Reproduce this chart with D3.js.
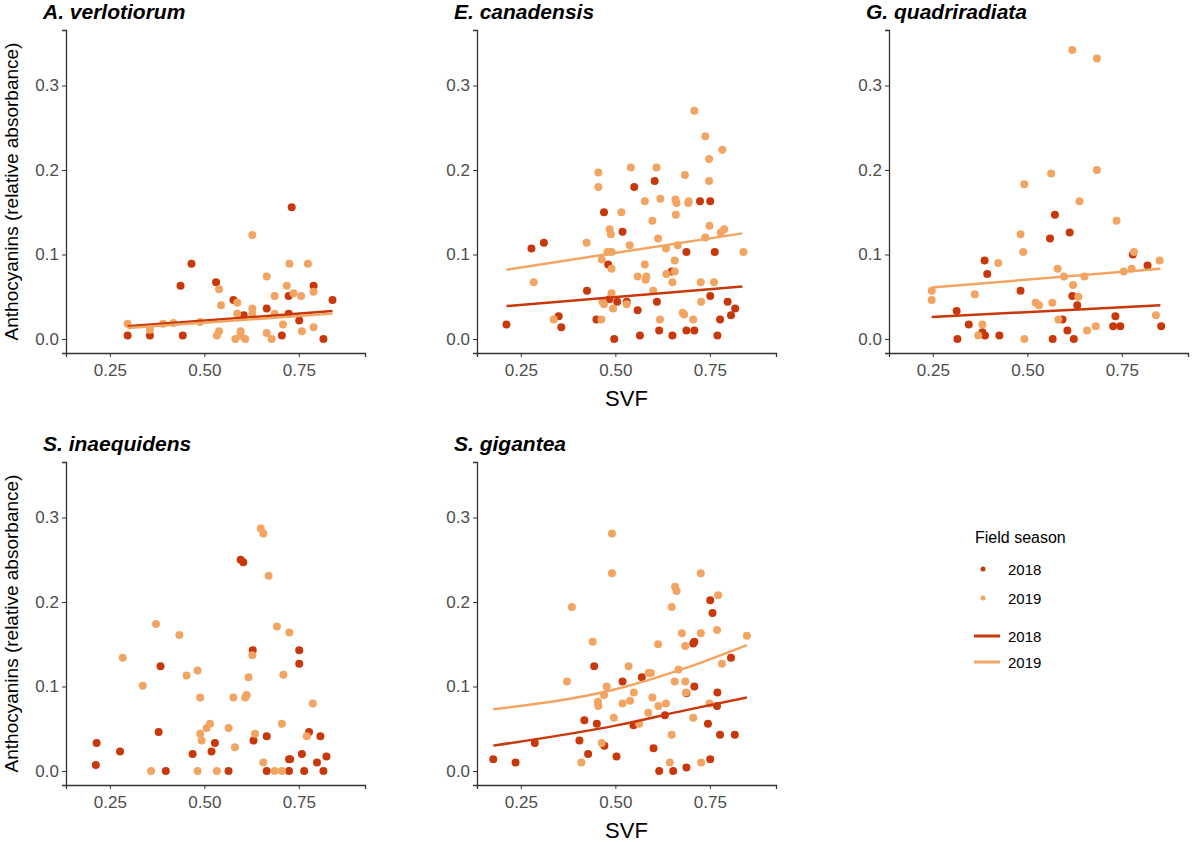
<!DOCTYPE html>
<html><head><meta charset="utf-8">
<script src="https://cdn.jsdelivr.net/npm/d3@7"></script>
<style>body{margin:0;background:#fff}</style>
</head><body>
<script>
// species panels, in reading order
const species = ["A. verlotiorum", "E. canadensis", "G. quadriradiata", "S. inaequidens", "S. gigantea"];
const seasons = ["2018", "2019"];
const colors = {"2018": "#c9380a", "2019": "#f2a563"};
const xTicks = [0.25, 0.50, 0.75];
const yTicks = [0.0, 0.1, 0.2, 0.3];

// [SVF, anthocyanins]
const pts2018 = [
  [[0.297,0.004],[0.356,0.004],[0.443,0.004],[0.437,0.063],[0.466,0.089],[0.531,0.067],[0.577,0.046],[0.604,0.028],[0.665,0.036],[0.705,0.004],[0.723,0.051],[0.723,0.030],[0.731,0.156],[0.751,0.022],[0.789,0.063],[0.815,0],[0.839,0.046]],
  [[0.212,0.017],[0.278,0.107],[0.311,0.114],[0.350,0.027],[0.357,0.014],[0.425,0.057],[0.450,0.023],[0.470,0.150],[0.481,0.088],[0.484,0.047],[0.497,0],[0.505,0.044],[0.519,0.127],[0.530,0.044],[0.550,0.180],[0.559,0.034],[0.565,0.004],[0.604,0.187],[0.610,0.044],[0.616,0.010],[0.649,0.080],[0.651,0.004],[0.688,0.103],[0.688,0.010],[0.709,0.010],[0.724,0.163],[0.751,0.163],[0.751,0.051],[0.763,0.103],[0.770,0.004],[0.777,0.023],[0.797,0.044],[0.806,0.028],[0.817,0.036]],
  [[0.313,0.033],[0.315,0],[0.345,0.017],[0.381,0.008],[0.387,0.093],[0.388,0.004],[0.394,0.077],[0.426,0.004],[0.482,0.057],[0.560,0.119],[0.567,0],[0.573,0.147],[0.593,0.023],[0.606,0.010],[0.612,0.126],[0.619,0.051],[0.623,0],[0.632,0.040],[0.727,0.015],[0.733,0.027],[0.746,0.015],[0.779,0.100],[0.818,0.087],[0.854,0.015]],
  [[0.213,0.007],[0.215,0.033],[0.277,0.023],[0.379,0.046],[0.384,0.124],[0.398,0],[0.469,0.020],[0.519,0.023],[0.528,0.033],[0.564,0],[0.596,0.250],[0.603,0.247],[0.628,0.143],[0.630,0.036],[0.665,0.041],[0.665,0],[0.724,0.014],[0.724,0],[0.727,0.014],[0.751,0.143],[0.751,0.127],[0.758,0.020],[0.764,0],[0.777,0.046],[0.798,0.010],[0.807,0.041],[0.815,0],[0.823,0.017]],
  [[0.177,0.014],[0.236,0.010],[0.287,0.033],[0.405,0.036],[0.418,0.060],[0.428,0.020],[0.444,0.124],[0.451,0.056],[0.471,0.030],[0.503,0.017],[0.519,0.106],[0.548,0.054],[0.570,0.111],[0.601,0.027],[0.616,0],[0.631,0.066],[0.653,0],[0.688,0.004],[0.688,0.092],[0.706,0.151],[0.709,0.153],[0.709,0.100],[0.745,0.056],[0.751,0.202],[0.751,0.014],[0.757,0.187],[0.769,0.077],[0.770,0.093],[0.777,0.043],[0.806,0.134],[0.816,0.043]]
];
const pts2019 = [
  [[0.297,0.018],[0.356,0.011],[0.391,0.018],[0.418,0.019],[0.489,0.020],[0.533,0.004],[0.539,0.009],[0.539,0.059],[0.544,0.040],[0.587,0.043],[0.587,0.030],[0.582,0],[0.596,0.009],[0.596,0.004],[0.608,0],[0.627,0.123],[0.627,0.036],[0.627,0.030],[0.665,0.074],[0.665,0.007],[0.678,0],[0.686,0.051],[0.686,0.030],[0.708,0.017],[0.718,0.063],[0.725,0.089],[0.736,0.054],[0.756,0.051],[0.758,0.009],[0.774,0.089],[0.789,0.056],[0.789,0.014]],
  [[0.284,0.067],[0.337,0.023],[0.424,0.114],[0.455,0.197],[0.455,0.180],[0.463,0.023],[0.464,0.094],[0.466,0.044],[0.470,0.041],[0.485,0.130],[0.488,0.124],[0.479,0.103],[0.490,0.103],[0.490,0.083],[0.494,0.036],[0.490,0.054],[0.516,0.150],[0.530,0.041],[0.541,0.203],[0.538,0.111],[0.578,0.163],[0.578,0.088],[0.582,0.074],[0.559,0.074],[0.580,0.070],[0.598,0.140],[0.600,0.057],[0.609,0.203],[0.613,0.119],[0.618,0.023],[0.619,0.166],[0.634,0.107],[0.635,0.077],[0.651,0.067],[0.657,0.080],[0.657,0.093],[0.659,0.165],[0.660,0.147],[0.662,0.161],[0.665,0.111],[0.678,0.031],[0.682,0.029],[0.684,0.194],[0.693,0.161],[0.694,0.163],[0.706,0.023],[0.709,0.270],[0.726,0.067],[0.727,0.044],[0.738,0.240],[0.738,0.120],[0.748,0.213],[0.748,0.187],[0.749,0.134],[0.761,0.067],[0.783,0.224],[0.788,0.130],[0.779,0.126],[0.839,0.103]],
  [[0.247,0.057],[0.247,0.046],[0.361,0.053],[0.370,0.004],[0.381,0.017],[0.423,0.090],[0.482,0.124],[0.489,0.103],[0.492,0.183],[0.492,0],[0.522,0.043],[0.531,0.040],[0.563,0.196],[0.566,0.043],[0.580,0.083],[0.582,0.023],[0.597,0.074],[0.621,0.064],[0.635,0.050],[0.638,0.163],[0.651,0.074],[0.658,0.010],[0.681,0.015],[0.684,0.332],[0.684,0.200],[0.619,0.342],[0.736,0.140],[0.755,0.080],[0.776,0.083],[0.782,0.103],[0.840,0.028],[0.850,0.093]],
  [[0.284,0.134],[0.337,0.101],[0.359,0],[0.372,0.174],[0.434,0.161],[0.453,0.113],[0.482,0.119],[0.482,0],[0.489,0.087],[0.489,0.044],[0.493,0.036],[0.506,0.051],[0.515,0.056],[0.533,0],[0.564,0.051],[0.577,0.087],[0.581,0.028],[0.608,0.087],[0.612,0.090],[0.617,0.111],[0.627,0.137],[0.634,0.044],[0.656,0.010],[0.649,0.287],[0.656,0.281],[0.670,0.231],[0.686,0],[0.692,0.171],[0.705,0],[0.705,0.056],[0.709,0.114],[0.725,0.164],[0.771,0.041],[0.787,0.080]],
  [[0.372,0.106],[0.385,0.194],[0.410,0.010],[0.440,0.153],[0.454,0.080],[0.454,0.082],[0.455,0.077],[0.464,0.033],[0.470,0.090],[0.477,0.100],[0.491,0.281],[0.491,0.234],[0.496,0.063],[0.519,0.080],[0.535,0.124],[0.539,0.083],[0.549,0.093],[0.563,0.056],[0.588,0.116],[0.594,0.116],[0.587,0.069],[0.598,0.087],[0.613,0.150],[0.614,0.077],[0.634,0.080],[0.649,0.043],[0.644,0.010],[0.649,0.194],[0.658,0.218],[0.662,0.213],[0.657,0.106],[0.667,0.120],[0.676,0.163],[0.685,0.148],[0.685,0.106],[0.687,0.093],[0.706,0.063],[0.727,0.010],[0.726,0.234],[0.726,0.163],[0.749,0.080],[0.769,0.167],[0.772,0.208],[0.782,0.127],[0.848,0.160]]
];
// fitted lines (null = no line)
const fit2018 = [
  [[0.297,0.015],[0.839,0.033]],
  [[0.212,0.039],[0.836,0.062]],
  [[0.247,0.026],[0.852,0.040]],
  null,
  [[0.177,0.030],[0.503,0.054],[0.687,0.072],[0.848,0.087]]
];
const fit2019 = [
  [[0.297,0.013],[0.839,0.030]],
  [[0.212,0.082],[0.836,0.125]],
  [[0.247,0.061],[0.852,0.083]],
  null,
  [[0.177,0.073],[0.503,0.097],[0.687,0.122],[0.848,0.149]]
];

const svg = d3.select("body").append("svg").attr("width", 1200).attr("height", 842)
  .style("font-family", "Liberation Sans, Arial, sans-serif");

const panelW = 299, panelH = 323;
const colLeft = [66, 477, 889], rowTop = [30, 462];

const x = d3.scaleLinear().domain([0.134, 0.925]).range([0, panelW]);
const y = d3.scaleLinear().domain([-0.0166, 0.3657]).range([panelH, 0]);
const line = d3.line().x(d => x(d[0])).y(d => y(d[1])).curve(d3.curveMonotoneX);

species.forEach((sp, i) => {
  const col = i % 3, row = Math.floor(i / 3);
  const g = svg.append("g").attr("transform", `translate(${colLeft[col]},${rowTop[row]})`);

  const xa = g.append("g").attr("transform", `translate(0,${panelH})`)
    .call(d3.axisBottom(x).tickValues(xTicks).tickFormat(d3.format(".2f")).tickSizeOuter(0).tickSize(4));
  const ya = g.append("g")
    .call(d3.axisLeft(y).tickValues(yTicks).tickFormat(d3.format(".1f")).tickSizeOuter(0).tickSize(4));
  [xa, ya].forEach(a => {
    a.select(".domain").attr("stroke", "#333").attr("stroke-width", 1.3);
    a.selectAll(".tick line").attr("stroke", "#333");
    a.selectAll("text").attr("fill", "#4d4d4d").style("font-size", "17px");
  });
  xa.selectAll("text").attr("dy", "0.95em");

  g.append("text").attr("x", -23).attr("y", -11)
    .style("font-size", "21px").style("font-weight", "bold").style("font-style", "italic")
    .text(sp);

  [[pts2018[i], "2018"], [pts2019[i], "2019"]].forEach(([pts, s]) => {
    g.selectAll(null).data(pts).join("circle")
      .attr("cx", d => x(d[0])).attr("cy", d => y(d[1])).attr("r", 4)
      .attr("fill", colors[s]);
  });
  [[fit2018[i], "2018"], [fit2019[i], "2019"]].forEach(([f, s]) => {
    if (!f) return;
    g.append("path").attr("d", line(f)).attr("fill", "none")
      .attr("stroke", colors[s]).attr("stroke-width", 2.5);
  });

  if (col === 0) {
    g.append("text").attr("transform", `translate(${-48},${panelH / 2}) rotate(-90)`)
      .attr("text-anchor", "middle").style("font-size", "19px").text("Anthocyanins (relative absorbance)");
  }
  if (col === 1) {
    g.append("text").attr("x", panelW / 2).attr("y", panelH + 53)
      .attr("text-anchor", "middle").style("font-size", "22px").text("SVF");
  }
});

// legend
const lg = svg.append("g").attr("transform", "translate(975,543)");
lg.append("text").style("font-size", "16px").text("Field season");
seasons.forEach((s, j) => {
  lg.append("circle").attr("cx", 8).attr("cy", 26 + j * 29).attr("r", 2.5).attr("fill", colors[s]);
  lg.append("text").attr("x", 33).attr("y", 32 + j * 29).style("font-size", "15px").text(s);
  lg.append("line").attr("x1", -1).attr("x2", 25).attr("y1", 93 + j * 26).attr("y2", 93 + j * 26)
    .attr("stroke", colors[s]).attr("stroke-width", 3);
  lg.append("text").attr("x", 33).attr("y", 99 + j * 26).style("font-size", "15px").text(s);
});
</script>
</body></html>
